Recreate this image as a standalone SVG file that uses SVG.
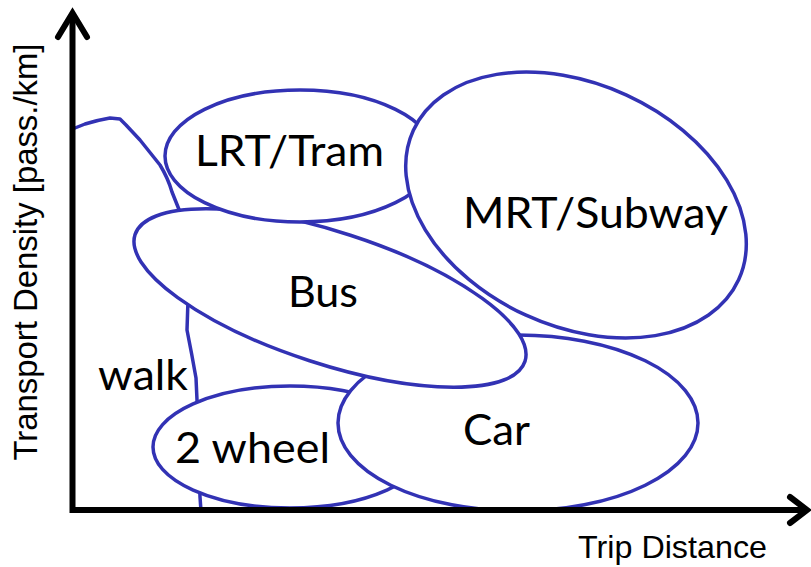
<svg xmlns="http://www.w3.org/2000/svg" width="811" height="567" viewBox="0 0 811 567">
  <style>
    .zone { fill: #ffffff; stroke: #3232b4; stroke-width: 3.5; }
    .edge { fill: none; stroke: #3232b4; stroke-width: 3.5; stroke-linejoin: round; stroke-linecap: round; }
    .lbl { font-family: Lato, "Open Sans", "Noto Sans", sans-serif; font-size: 43px; fill: #000000; }
    .axis { fill: none; stroke: #000000; stroke-width: 6; }
    .head { fill: none; stroke: #000000; stroke-width: 6; stroke-linecap: round; stroke-linejoin: miter; }
    .axlbl { font-family: "Liberation Sans", Arial, sans-serif; fill: #000000; }
  </style>

  <rect x="0" y="0" width="811" height="567" fill="#ffffff"/>

  <!-- walking range: boundary line, partly covered by the zones above it -->
  <g id="walk">
    <path class="edge" d="M75,128 L85,124 Q98,120 110,118 L120,119 L126,125 L140,140 Q152,155 160,165 Q168,178 172,192 L180,212 L188,300 L187,330 Q192,355 196,378 L197,400 L200,497 L201,511"/>
    <text class="lbl" x="98" y="390" textLength="90" lengthAdjust="spacingAndGlyphs">walk</text>
  </g>

  <g id="two-wheel">
    <ellipse class="zone" cx="290" cy="447" rx="137" ry="61"/>
    <text class="lbl" x="175" y="463" textLength="155" lengthAdjust="spacingAndGlyphs">2 wheel</text>
  </g>

  <g id="car">
    <ellipse class="zone" cx="518" cy="423" rx="180" ry="88"/>
    <text class="lbl" x="463" y="445" textLength="67" lengthAdjust="spacingAndGlyphs">Car</text>
  </g>

  <g id="bus">
    <ellipse class="zone" cx="330" cy="298" rx="205" ry="66" transform="rotate(18 330 298)"/>
    <text class="lbl" x="288" y="307" textLength="70" lengthAdjust="spacingAndGlyphs">Bus</text>
  </g>

  <g id="lrt-tram">
    <ellipse class="zone" cx="300" cy="156" rx="135" ry="66"/>
    <text class="lbl" x="195" y="166" textLength="189" lengthAdjust="spacingAndGlyphs">LRT/Tram</text>
  </g>

  <g id="mrt-subway">
    <ellipse class="zone" cx="576" cy="205" rx="179" ry="121" transform="rotate(24.7 576 205)"/>
    <text class="lbl" x="463" y="228" textLength="265" lengthAdjust="spacingAndGlyphs">MRT/Subway</text>
  </g>

  <!-- axes -->
  <g id="axes">
    <polyline class="axis" points="72.5,14 72.5,510 806,510"/>
    <polyline class="head" points="58,37 72.5,13 87,37"/>
    <polyline class="head" points="790,497 807,510 790,523"/>
    <text class="axlbl" font-size="33" text-anchor="middle" transform="translate(37,252) rotate(-90)" textLength="417" lengthAdjust="spacingAndGlyphs">Transport Density [pass./km]</text>
    <text class="axlbl" font-size="32" x="578" y="558" textLength="189" lengthAdjust="spacingAndGlyphs">Trip Distance</text>
  </g>
</svg>
